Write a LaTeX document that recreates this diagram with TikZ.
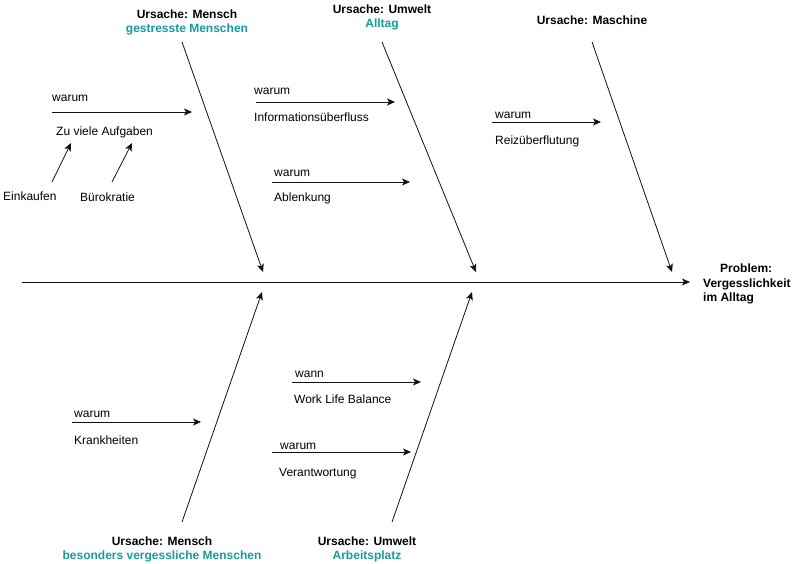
\documentclass[tikz,border=0pt]{standalone}
\usepackage{fontspec}
\setmainfont{Liberation Sans}
\usetikzlibrary{arrows.meta}
\definecolor{causeteal}{HTML}{169C9C}
\definecolor{boneedge}{HTML}{111111}

\begin{document}
\begin{tikzpicture}[x=1pt, y=-1pt,
  every node/.style={inner sep=0pt, font=\fontsize{12}{14}\selectfont},
  bone/.style={draw=boneedge, line width=0.8pt, -{Stealth[length=8pt, width=7pt, inset=2pt]}},
  twig/.style={draw=boneedge, line width=0.8pt, -{Stealth[length=8pt, width=7pt, inset=2pt]}},
  cause/.style={align=center, font=\bfseries\fontsize{12}{14}\selectfont},
  lab/.style={anchor=base west},
  problem/.style={anchor=west, align=left, font=\bfseries\fontsize{12}{14.5}\selectfont},
]
\useasboundingbox (0,0) rectangle (792,563);
% ---- spine and problem
\coordinate (spine_start) at (22,282);
\coordinate (spine_end) at (690,282);
\node[problem] (problem) at (703,284) {\hspace*{17pt}Problem:\\Vergesslichkeit\\im Alltag};
\draw[bone] (spine_start) -- (spine_end);
% ---- top bones
\node[cause] (cause_mensch) at (187,22) {Ursache: Mensch\\{\color{causeteal}gestresste Menschen}};
\node[cause] (cause_umwelt) at (382,17) {Ursache: Umwelt\\{\color{causeteal}Alltag}};
\node[cause] (cause_maschine) at (592,20) {Ursache: Maschine};
\coordinate (m_top) at (182,42);   \coordinate (m_end) at (263,272);
\coordinate (u_top) at (382,42);   \coordinate (u_end) at (476,272);
\coordinate (ma_top) at (592,42);  \coordinate (ma_end) at (672,272);
\draw[bone] (m_top) -- (m_end);
\draw[bone] (u_top) -- (u_end);
\draw[bone] (ma_top) -- (ma_end);
% ---- bottom bones
\node[cause] (cause_mensch_b) at (162,549) {Ursache: Mensch\\{\color{causeteal}besonders vergessliche Menschen}};
\node[cause] (cause_umwelt_b) at (367,549) {Ursache: Umwelt\\{\color{causeteal}Arbeitsplatz}};
\coordinate (mb_foot) at (182,522);  \coordinate (mb_end) at (262,292);
\coordinate (ub_foot) at (392,522);  \coordinate (ub_end) at (472,292);
\draw[bone] (mb_foot) -- (mb_end);
\draw[bone] (ub_foot) -- (ub_end);
% ---- twigs: Mensch (top)
\node[lab] (why_aufgaben) at (52,101) {warum};
\node[lab] (aufgaben) at (56,135) {Zu viele Aufgaben};
\draw[twig] (52,112) -- (192,112);
\node[lab] (einkaufen) at (3,200) {Einkaufen};
\node[lab] (buerokratie) at (80,201) {Bürokratie};
\draw[twig] (52,182) -- (71,143);
\draw[twig] (112,182) -- (132,143);
% ---- twigs: Umwelt (top)
\node[lab] (why_info) at (254,94) {warum};
\node[lab] (info) at (254,121) {Informationsüberfluss};
\draw[twig] (256,102) -- (395,102);
\node[lab] (why_ablenkung) at (274,176) {warum};
\node[lab] (ablenkung) at (274,201) {Ablenkung};
\draw[twig] (272,182) -- (410,182);
% ---- twigs: Maschine
\node[lab] (why_reiz) at (495,118) {warum};
\node[lab] (reiz) at (495,144) {Reizüberflutung};
\draw[twig] (492,122) -- (601,122);
% ---- twigs: bottom
\node[lab] (why_krank) at (74,417) {warum};
\node[lab] (krank) at (74,444) {Krankheiten};
\draw[twig] (72,422) -- (201,422);
\node[lab] (when_balance) at (295,377) {wann};
\node[lab] (balance) at (294,403) {Work Life Balance};
\draw[twig] (292,382) -- (421,382);
\node[lab] (why_verantw) at (280,449) {warum};
\node[lab] (verantw) at (279,476) {Verantwortung};
\draw[twig] (272,452) -- (411,452);
\end{tikzpicture}
\end{document}
